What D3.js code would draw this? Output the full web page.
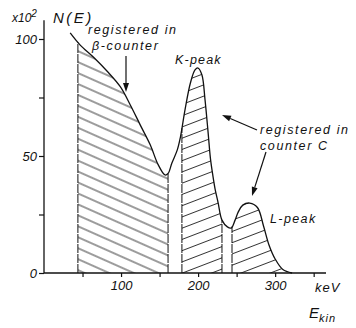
<!DOCTYPE html>
<html>
<head>
<meta charset="utf-8">
<script src="https://cdn.jsdelivr.net/npm/d3@7"></script>
<style>
  body { margin: 0; background: #fff; }
  svg text { font-family: "Liberation Sans", Arial, sans-serif; font-style: italic; fill: #111; }
</style>
</head>
<body>
<div id="chart"></div>
<script>
// spectrum: energy (keV) and counts (x10^2)
const energy = [34, 47, 64, 82, 99, 112, 125, 138, 148, 157, 161, 166, 173, 177, 183, 190, 196, 200, 205, 209, 213, 216, 219, 222, 226, 231, 238, 243, 248, 252, 258, 267, 277, 285, 292, 300, 310, 322];
const counts = [102.6, 97.4, 92.3, 86.2, 79.6, 71.8, 63.2, 54.7, 46.4, 41.9, 42.5, 47, 52.6, 58, 69.7, 81.2, 86.8, 87.6, 84.6, 74, 60, 49, 42, 36, 30, 22.6, 19.7, 19.2, 22.6, 26, 29, 29.9, 28, 20, 12, 6, 1.5, 0];

// hatched windows (keV)
const regions = [
  { name: "beta", from: 44, to: 161, hatch: "back" },
  { name: "K", from: 179, to: 231, hatch: "fwd" },
  { name: "L", from: 244, to: 322, hatch: "fwd" }
];

const xTicks = [50, 100, 150, 200, 250, 300, 350];
const xLabels = [100, 200, 300];
const yTicks = [0, 25, 50, 75, 100];
const yLabels = [0, 50, 100];

const width = 356, height = 328;

const svg = d3.select("#chart").append("svg")
  .attr("width", width)
  .attr("height", height);

const x = d3.scaleLinear().domain([0, 366]).range([44, 326]);
const y = d3.scaleLinear().domain([0, 100]).range([273, 39]);

const points = energy.map((e, i) => [e, counts[i]]);

const defs = svg.append("defs");
const hatch = (id, angle, step) => {
  defs.append("pattern")
    .attr("id", id)
    .attr("patternUnits", "userSpaceOnUse")
    .attr("width", 20)
    .attr("height", step)
    .attr("patternTransform", `rotate(${angle})`)
    .append("line")
    .attr("x1", 0).attr("x2", 20)
    .attr("y1", step / 2).attr("y2", step / 2)
    .attr("stroke", "#222")
    .attr("stroke-width", 0.9);
};
hatch("back", 24, 10);
hatch("fwd", -21, 10.5);

const curve = d3.curveCatmullRom.alpha(0.5);
const area = d3.area()
  .x(d => x(d[0]))
  .y0(y(0))
  .y1(d => y(d[1]))
  .curve(curve);

regions.forEach(r => {
  defs.append("clipPath")
    .attr("id", `clip_${r.name}`)
    .append("rect")
    .attr("x", x(r.from))
    .attr("y", 0)
    .attr("width", x(r.to) - x(r.from))
    .attr("height", height);

  svg.append("path")
    .datum(points)
    .attr("clip-path", `url(#clip_${r.name})`)
    .attr("fill", `url(#${r.hatch})`)
    .attr("d", area);
});

// bin edges
const interp = e => {
  const i = d3.bisectLeft(energy, e);
  const e0 = energy[i - 1], e1 = energy[i];
  return counts[i - 1] + (counts[i] - counts[i - 1]) * (e - e0) / (e1 - e0);
};
const edges = [];
regions.forEach(r => {
  edges.push(r.from);
  if (r.to < energy[energy.length - 1]) edges.push(r.to);
});
svg.append("g")
  .selectAll("line")
  .data(edges)
  .join("line")
  .attr("x1", d => x(d)).attr("x2", d => x(d))
  .attr("y1", y(0))
  .attr("y2", d => y(interp(d)))
  .attr("stroke", "#111")
  .attr("stroke-width", 1)
  .attr("stroke-dasharray", "9,1");

// spectrum line
svg.append("path")
  .datum(points)
  .attr("fill", "none")
  .attr("stroke", "#111")
  .attr("stroke-width", 1.3)
  .attr("d", d3.line().x(d => x(d[0])).y(d => y(d[1])).curve(curve));

// axes
const xAxis = svg.append("g")
  .attr("transform", `translate(0,${y(0)})`)
  .call(d3.axisBottom(x)
    .tickValues(xTicks)
    .tickSize(4)
    .tickSizeOuter(0)
    .tickPadding(4)
    .tickFormat(d => xLabels.includes(d) ? d : ""));
xAxis.select(".domain").remove();
xAxis.selectAll(".tick line").attr("stroke", "#111").attr("stroke-width", 1.2);
xAxis.selectAll(".tick text").style("font-size", "13px").attr("fill", "#111");
xAxis.append("line")
  .attr("x1", x(0)).attr("x2", x(366))
  .attr("stroke", "#111").attr("stroke-width", 1.3);

const yAxis = svg.append("g")
  .attr("transform", `translate(${x(0)},0)`)
  .call(d3.axisLeft(y)
    .tickValues(yTicks)
    .tickSize(5)
    .tickSizeOuter(0)
    .tickPadding(2)
    .tickFormat(d => yLabels.includes(d) ? d : ""));
yAxis.select(".domain").remove();
yAxis.selectAll(".tick line").attr("stroke", "#111").attr("stroke-width", 1.2);
yAxis.selectAll(".tick text").style("font-size", "13px").attr("fill", "#111");
yAxis.append("line")
  .attr("y1", y(0)).attr("y2", y(108))
  .attr("stroke", "#111").attr("stroke-width", 1.3);

// labels
const label = (tx, ty, str, size = 13, spacing = 1.2) =>
  svg.append("text")
    .attr("x", tx).attr("y", ty)
    .style("font-size", size + "px")
    .style("letter-spacing", spacing + "px")
    .text(str);

const xl = label(12, 22, "x10", 12, 0);
xl.append("tspan").attr("dy", -5).style("font-size", "10px").text("2");
label(53, 23, "N(E)", 15, 2.5);
label(88, 34, "registered in", 12.5, 1.6);
label(92, 50, "β-counter", 12.5, 1.6);
label(175, 64, "K-peak", 12.5, 1.2);
label(260, 134, "registered in", 12.5, 1.6);
label(260, 150, "counter C", 12.5, 1.6);
label(270, 223, "L-peak", 12.5, 1.4);
label(315, 292, "keV", 13, 1);
const ek = label(309, 318, "E", 15, 0);
ek.append("tspan").attr("dy", 4).style("font-size", "11px").style("letter-spacing", "1px").text("kin");

// arrows
const arrows = [
  [[126, 56], [126, 92]],
  [[257, 130], [222, 115]],
  [[266, 152], [252, 196]]
];
arrows.forEach(([a, b]) => {
  const ang = Math.atan2(b[1] - a[1], b[0] - a[0]);
  const len = 9, w = 3;
  const bx = b[0] - len * Math.cos(ang), by = b[1] - len * Math.sin(ang);
  svg.append("line")
    .attr("x1", a[0]).attr("y1", a[1])
    .attr("x2", bx).attr("y2", by)
    .attr("stroke", "#111").attr("stroke-width", 1.2);
  svg.append("path")
    .attr("d", d3.line()([
      b,
      [bx + w * Math.sin(ang), by - w * Math.cos(ang)],
      [bx - w * Math.sin(ang), by + w * Math.cos(ang)]
    ]) + "Z")
    .attr("fill", "#111");
});
</script>
</body>
</html>
